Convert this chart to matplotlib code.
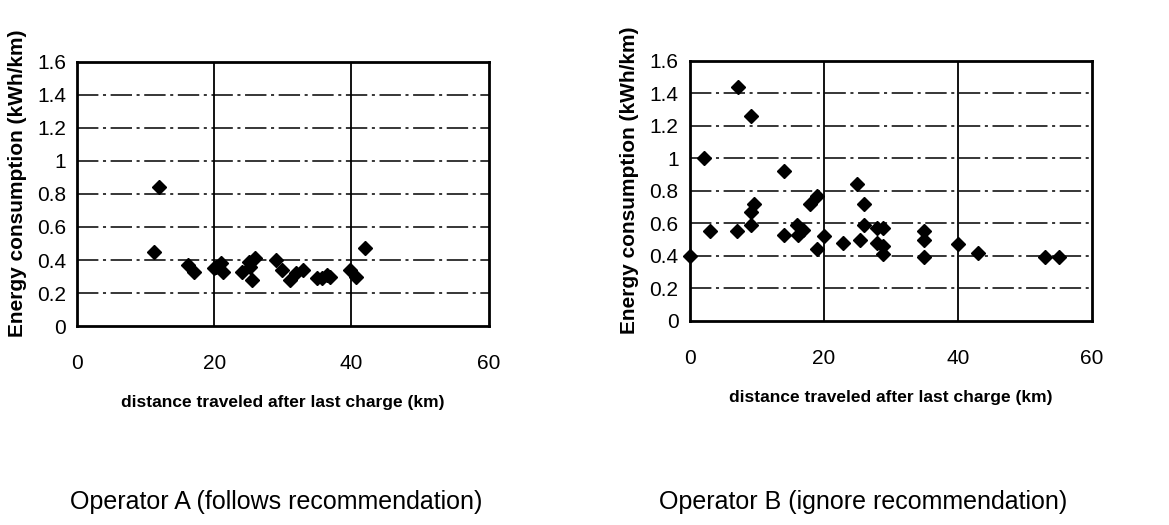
import matplotlib
matplotlib.use("Agg")
import matplotlib.pyplot as plt

# Operator A (follows recommendation)
a_dist = [11.2, 12.0, 16.1, 17.1, 20.0, 20.3, 21.0, 21.2, 24.1, 25.0, 25.2, 25.5, 26.0,
          29.0, 29.9, 31.1, 31.9, 32.9, 35.0, 35.7, 36.4, 36.9, 39.8, 40.7, 42.0]
a_energy = [0.45, 0.84, 0.37, 0.33, 0.35, 0.36, 0.38, 0.33, 0.33, 0.39, 0.36, 0.28, 0.41,
            0.40, 0.34, 0.28, 0.32, 0.34, 0.29, 0.29, 0.31, 0.30, 0.34, 0.30, 0.47]

# Operator B (ignore recommendation)
b_dist = [0.1, 2.1, 3.0, 7.2, 7.0, 9.1, 9.1, 9.2, 9.6, 14.1, 14.1, 16.0, 16.1, 16.9,
          18.0, 19.0, 19.0, 20.1, 22.9, 25.0, 26.0, 26.0, 25.4, 28.0, 28.9, 28.0, 28.9,
          28.9, 34.9, 34.9, 34.9, 40.0, 43.0, 53.0, 55.1]
b_energy = [0.40, 1.00, 0.55, 1.44, 0.55, 1.26, 0.59, 0.67, 0.72, 0.92, 0.53, 0.59, 0.53, 0.56,
            0.72, 0.77, 0.44, 0.52, 0.48, 0.84, 0.72, 0.59, 0.50, 0.57, 0.57, 0.48, 0.46,
            0.41, 0.55, 0.50, 0.39, 0.47, 0.42, 0.39, 0.39]

x_ticks = [0, 20, 40, 60]
y_ticks = [0, 0.2, 0.4, 0.6, 0.8, 1, 1.2, 1.4, 1.6]
y_labels = ["0", "0.2", "0.4", "0.6", "0.8", "1", "1.2", "1.4", "1.6"]

plt.rcParams['font.family'] = ['Liberation Sans', 'DejaVu Sans']

fig = plt.figure(figsize=(11.69, 5.25), dpi=100)
panels = [
    ([0.066, 0.379, 0.352, 0.503], a_dist, a_energy, "Operator A (follows recommendation)", 0.236, -0.122),
    ([0.590, 0.389, 0.344, 0.495], b_dist, b_energy, "Operator B (ignore recommendation)", 0.738, -0.127),
]

for rect, xs, ys, title, tx, ylx in panels:
    ax = fig.add_axes(rect)
    ax.set_xlim(0, 60)
    ax.set_ylim(0, 1.6)
    for yv in y_ticks[1:-1]:
        ax.axhline(yv, color="black", lw=1.1, ls=(0, (14, 3, 2, 3)), zorder=1)
    for xv in x_ticks[1:-1]:
        ax.axvline(xv, color="black", lw=1.3, zorder=1)
    ax.plot(xs, ys, "D", color="black", markersize=7.5, zorder=3, clip_on=False)
    ax.set_xticks(x_ticks)
    ax.set_yticks(y_ticks)
    ax.set_yticklabels(y_labels)
    ax.tick_params(length=0, labelsize=15)
    ax.tick_params(axis="y", pad=8)
    ax.tick_params(axis="x", pad=20)
    for s in ax.spines.values():
        s.set_linewidth(2)
    ax.set_xlabel("distance traveled after last charge (km)", fontsize=12.5,
                  fontweight="bold", labelpad=16)
    ax.set_ylabel("Energy consumption (kWh/km)", fontsize=15, fontweight="bold")
    ax.yaxis.set_label_coords(ylx, 0.54)
    fig.text(tx, 0.044, title, ha="center", va="center", fontsize=18)

fig.savefig("out.png", dpi=100, facecolor="white")
